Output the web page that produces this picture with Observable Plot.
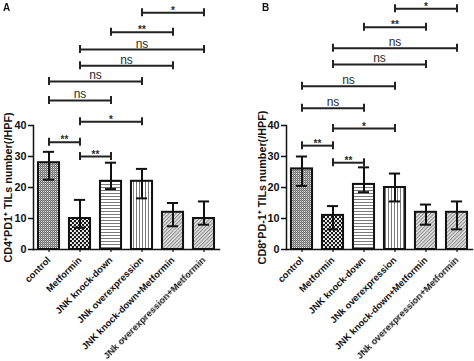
<!DOCTYPE html>
<html><head><meta charset="utf-8">
<script src="https://cdn.jsdelivr.net/npm/d3@7"></script>
<script src="https://cdn.jsdelivr.net/npm/@observablehq/plot@0.6"></script>
<style>
body{margin:0;background:#fff;}
#wrap{display:flex;width:474px;height:361px;}
.panel{position:relative;width:237px;height:361px;}
.panel svg{opacity:0.999;}
.letter{position:absolute;z-index:2;font:bold 10px "Liberation Sans",Arial,sans-serif;line-height:10px;color:#111;}
</style></head><body>
<svg width="0" height="0" style="position:absolute">
<defs>
<pattern id="pControl" width="2" height="2" patternUnits="userSpaceOnUse">
 <rect width="2" height="2" fill="#6f6f6f"/><rect x="1" y="1" width="1" height="1" fill="#e0e0e0"/><rect x="0" y="0" width="1" height="1" fill="#9a9a9a"/>
</pattern>
<pattern id="pMet" width="4" height="4" patternUnits="userSpaceOnUse">
 <rect width="4" height="4" fill="#151515"/><circle cx="1" cy="1" r="1.1" fill="#fff"/><circle cx="3" cy="3" r="1.1" fill="#fff"/>
</pattern>
<pattern id="pH" width="3" height="3" patternUnits="userSpaceOnUse">
 <rect width="3" height="3" fill="#fff"/><rect y="1" width="3" height="1" fill="#7a7a7a"/>
</pattern>
<pattern id="pV" width="3" height="3" patternUnits="userSpaceOnUse">
 <rect width="3" height="3" fill="#fff"/><rect x="1" width="1" height="3" fill="#7a7a7a"/>
</pattern>
<pattern id="pD" width="2.5" height="2.5" patternUnits="userSpaceOnUse" patternTransform="rotate(-45)">
 <rect width="2.5" height="2.5" fill="#e2e2e2"/><rect width="2.5" height="1" fill="#8a8a8a"/>
</pattern>
</defs></svg>
<div id="wrap">
 <div class="panel" id="pa"><div class="letter" style="left:3px;top:3px">A</div></div>
 <div class="panel" id="pb"><div class="letter" style="left:25px;top:3px">B</div></div>
</div>
<script>
const categories = ["control","Metformin","JNK knock-down","JNk overexpression","JNK knock-down+Metformin","JNk overexpression+Metformin"];
const fills = ["url(#pControl)","url(#pMet)","url(#pH)","url(#pV)","url(#pD)","url(#pD)"];

const meanA = [28, 10, 22, 22, 12, 10];
const lowA  = [22.5, 7, 19.5, 16.5, 7.5, 8];
const highA = [31.5, 16, 28, 26, 15, 15.5];

const meanB = [26, 11, 21, 20, 12, 12];
const lowB  = [20.5, 6.5, 18.5, 15.5, 8, 6.5];
const highB = [30, 14, 26.5, 24.5, 14.5, 15.5];

const sigFrom  = [3, 2, 1, 1, 0, 0, 1, 0, 1];
const sigTo    = [5, 4, 5, 4, 3, 2, 3, 1, 2];
const sigLabel = ["*", "**", "ns", "ns", "ns", "ns", "*", "**", "**"];
const sigYA = [76.4, 70.1, 64.5, 59.3, 54.2, 48.1, 41.2, 34.6, 30];
const sigYB = [77.7, 71.7, 64.9, 59.7, 52.7, 45.6, 39, 33.5, 28];

const yTicks = [0, 10, 20, 30, 40];
const labelA = "CD4\u207APD1\u207A TILs number(/HPF)";
const labelB = "CD8\u207APD-1\u207A TILs number(/HPF)";

const FONT = "'Liberation Sans', Arial, Helvetica, sans-serif";
const HALF = 0.34, CAP = 0.18;

function panel(mean, low, high, sigY, ylabel, marginLeft, marginRight, labelOffset) {
  const bars = categories.map((c, i) => ({i, mean: mean[i], low: low[i], high: high[i], fill: fills[i]}));
  const sig = sigLabel.map((l, i) => ({a: sigFrom[i], b: sigTo[i], y: sigY[i], label: l}));
  return Plot.plot({
    width: 237, height: 361,
    marginLeft, marginRight, marginTop: 125, marginBottom: 112,
    x: {type: "linear", domain: [-0.5, 5.5]},
    y: {domain: [0, 40]},
    color: {type: "identity"},
    style: {fontFamily: FONT, fontSize: "10px", color: "#111", background: "white", overflow: "visible"},
    marks: [
      Plot.rectY(bars, {x1: d => d.i - HALF, x2: d => d.i + HALF, y1: 0, y2: "mean", fill: "fill", stroke: "#111", strokeWidth: 2}),
      Plot.ruleX(bars, {x: "i", y1: "low", y2: "high", stroke: "#111", strokeWidth: 2}),
      Plot.ruleY(bars, {x1: d => d.i - CAP, x2: d => d.i + CAP, y: "low", stroke: "#111", strokeWidth: 2}),
      Plot.ruleY(bars, {x1: d => d.i - CAP, x2: d => d.i + CAP, y: "high", stroke: "#111", strokeWidth: 2}),
      Plot.frame({anchor: "left", stroke: "#111", strokeWidth: 1.5}),
      Plot.frame({anchor: "bottom", stroke: "#111", strokeWidth: 1.5}),
      Plot.axisY({ticks: yTicks, tickSize: 5, tickPadding: 2, fontWeight: "bold", fontSize: 10.8,
        label: ylabel, labelAnchor: "center", labelOffset, labelArrow: "none", strokeWidth: 1.5}),
      Plot.axisX({ticks: d3.range(categories.length), tickFormat: i => categories[i], tickSize: 3, tickPadding: 6,
        tickRotate: -45, fontWeight: "bold", fontSize: 9.4, label: null, strokeWidth: 1.2}),
      Plot.ruleY(sig, {x1: "a", x2: "b", y: "y", stroke: "#222", strokeWidth: 2}),
      Plot.ruleX(sig, {x: "a", y1: "y", y2: "y", insetTop: -4, insetBottom: -4, stroke: "#222", strokeWidth: 2}),
      Plot.ruleX(sig, {x: "b", y1: "y", y2: "y", insetTop: -4, insetBottom: -4, stroke: "#222", strokeWidth: 2}),
      Plot.text(sig.filter(d => d.label === "ns"), {x: d => (d.a + d.b) / 2, y: "y", text: "label", lineAnchor: "bottom", dy: -2, fontSize: 12, fill: "#2a2a2a"}),
      Plot.text(sig.filter(d => d.label !== "ns"), {x: d => (d.a + d.b) / 2, y: "y", text: "label", lineAnchor: "bottom", dy: 1, fontSize: 10, fontWeight: "bold", fill: "#2a2a2a"})
    ]
  });
}

document.getElementById("pa").appendChild(panel(meanA, lowA, highA, sigYA, labelA, 33, 18, 29));
document.getElementById("pb").appendChild(panel(meanB, lowB, highB, sigYB, labelB, 49, 2, 28));
</script>
</body></html>
